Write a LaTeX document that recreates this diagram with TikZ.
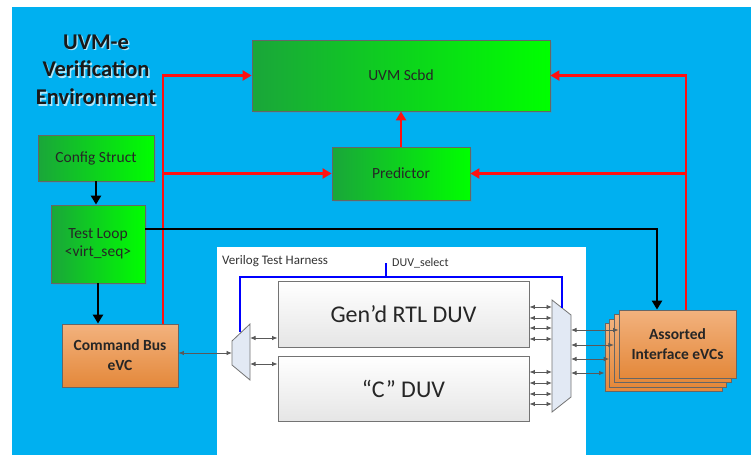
\documentclass[tikz,border=0pt]{standalone}
\usepackage{fontspec}
\setmainfont{Carlito}
\usetikzlibrary{arrows.meta,calc,shadows}
\definecolor{bgblue}{HTML}{00B0F0}
\definecolor{dkgreen}{HTML}{1AA63A}
\definecolor{ltgreen}{HTML}{00FF00}
\definecolor{orgtop}{HTML}{F2B27E}
\definecolor{orgbot}{HTML}{E4883A}
\definecolor{muxfill}{HTML}{E2E9F4}
\definecolor{redline}{HTML}{FF1010}
\definecolor{wireblue}{HTML}{0000FF}
\begin{document}
\begin{tikzpicture}[x=1pt,y=-1pt,
  greenbox/.style={draw=black!60,line width=0.8pt,left color=dkgreen,right color=ltgreen,
    inner sep=0pt,font=\fontsize{15.5}{18}\selectfont,align=center,text=black!85,
    drop shadow={shadow xshift=1.5pt,shadow yshift=-1.5pt,opacity=0.25}},
  orangebox/.style={draw=black!60,line width=0.8pt,top color=orgtop,bottom color=orgbot,
    inner sep=0pt,font=\fontsize{15.5}{20}\selectfont\bfseries,align=center,text=black!85},
  duvbox/.style={draw=black!55,line width=0.8pt,top color=white,bottom color=black!10,
    inner sep=0pt,font=\fontsize{24}{28}\selectfont,text=black!85},
  redarrow/.style={draw=redline,line width=2.4pt,-{Triangle[length=9pt,width=10pt]}},
  blkarrow/.style={draw=black,line width=2.4pt,-{Triangle[length=9pt,width=10pt]}},
  dbl/.style={draw=black!65,line width=0.9pt,{Latex[length=5.5pt,width=4.5pt]}-{Latex[length=5.5pt,width=4.5pt]}},
  mux/.style={draw=black!55,line width=0.8pt,fill=muxfill},
  small/.style={anchor=west,text=black!80,inner sep=0pt}
]
\useasboundingbox (0,0) rectangle (755,455);
\fill[white] (0,0) rectangle (755,455);
\fill[bgblue] (12,7) rectangle (751,455);

% title
\foreach \yy/\tt in {42/UVM-e,69/Verification,97/Environment}{
  \node[font=\fontsize{22.5}{26}\selectfont\bfseries,text=white!70!bgblue] at (97.4,\yy+1.4) {\tt};
  \node[font=\fontsize{22.5}{26}\selectfont\bfseries,text=black!90] at (96,\yy) {\tt};
}

% green boxes
\node[greenbox,minimum width=298pt,minimum height=71pt] (scbd) at (401,75.5) {UVM Scbd};
\node[greenbox,minimum width=116pt,minimum height=46pt] (config) at (96,158) {Config Struct};
\node[greenbox,minimum width=138pt,minimum height=53pt] (pred) at (401,173.5) {Predictor};
\node[greenbox,minimum width=94pt,minimum height=78pt] (loop) at (98,244) {Test Loop\\<virt\_seq>};

% command bus
\node[orangebox,minimum width=116pt,minimum height=63pt] (cmd) at (120,355.5) {Command Bus\\eVC};

% assorted stack
\foreach \k in {3,2,1}{
  \node[orangebox,minimum width=117pt,minimum height=68pt] (a\k) at (677.5-4.7*\k,344+4.6*\k) {};
}
\node[orangebox,minimum width=117pt,minimum height=68pt] (a0) at (677.5,344) {Assorted\\Interface eVCs};

% harness
\fill[white] (217,247) rectangle (586,455);
\node[small,font=\fontsize{13}{15}\selectfont] (harn) at (222,261) {Verilog Test Harness};

\node[duvbox,minimum width=251pt,minimum height=66pt] (gen) at (403.5,314) {Gen’d RTL DUV};
\node[duvbox,minimum width=251pt,minimum height=65pt] (cduv) at (403.5,388.5) {“C” DUV};

% muxes
\coordinate (lm1) at (250,324); \coordinate (lm2) at (232,341);
\coordinate (lm3) at (232,365); \coordinate (lm4) at (250,380);
\draw[mux] (lm1) -- (lm2) -- (lm3) -- (lm4) -- cycle;
\coordinate (rm1) at (552,300); \coordinate (rm2) at (571,315);
\coordinate (rm3) at (571,397); \coordinate (rm4) at (552,412);
\draw[mux] (rm1) -- (rm2) -- (rm3) -- (rm4) -- cycle;

% blue select wire
\coordinate (bl) at (240,332);
\coordinate (br) at (562,308);
\coordinate (bs) at (386,277);
\draw[wireblue,line width=2.4pt] (bl) -- (bl |- bs) -- (br |- bs) -- (br);
\draw[wireblue,line width=2.4pt] (bs) -- ++(0,-14) coordinate (bst);
\node[small,font=\fontsize{12}{14}\selectfont] (dsel) at (392,263) {DUV\_select};

% gray double arrows
\draw[dbl] (cmd.east |- 0,353) -- (lm2 |- 0,353);
\draw[dbl] (lm1 |- 0,338) -- (gen.west |- 0,338);
\draw[dbl] (lm1 |- 0,364) -- (cduv.west |- 0,364);
\foreach \yy in {307,318,328,339}{\draw[dbl] (gen.east |- 0,\yy) -- (rm1 |- 0,\yy);}
\foreach \yy in {372,383,394,404}{\draw[dbl] (cduv.east |- 0,\yy) -- (rm1 |- 0,\yy);}
\draw[dbl] (rm2 |- 0,330) -- (a0.west |- 0,330);
\draw[dbl] (rm2 |- 0,345) -- (a1.west |- 0,345);
\draw[dbl] (rm2 |- 0,359) -- (a2.west |- 0,359);
\draw[dbl] (rm2 |- 0,373) -- (a3.west |- 0,373);

% red connectors
\coordinate (rl) at (163,75.5);
\coordinate (rr) at (686,75.5);
\draw[redarrow] (cmd.north -| rl) -- (rl) -- (scbd.west);
\draw[redarrow] (rl |- pred.west) -- (pred.west);
\draw[redarrow] (a0.north -| rr) -- (rr) -- (scbd.east);
\draw[redarrow] (rr |- pred.east) -- (pred.east);
\draw[redarrow] (pred.north) -- (scbd.south);

% black connectors
\draw[blkarrow] (config.south) -- (config.south |- loop.north);
\draw[blkarrow] (loop.south) -- (loop.south |- cmd.north);
\coordinate (bk) at (657,229);
\draw[blkarrow] (loop.east |- bk) -- (bk) -- (bk |- a0.north);
\end{tikzpicture}
\end{document}
